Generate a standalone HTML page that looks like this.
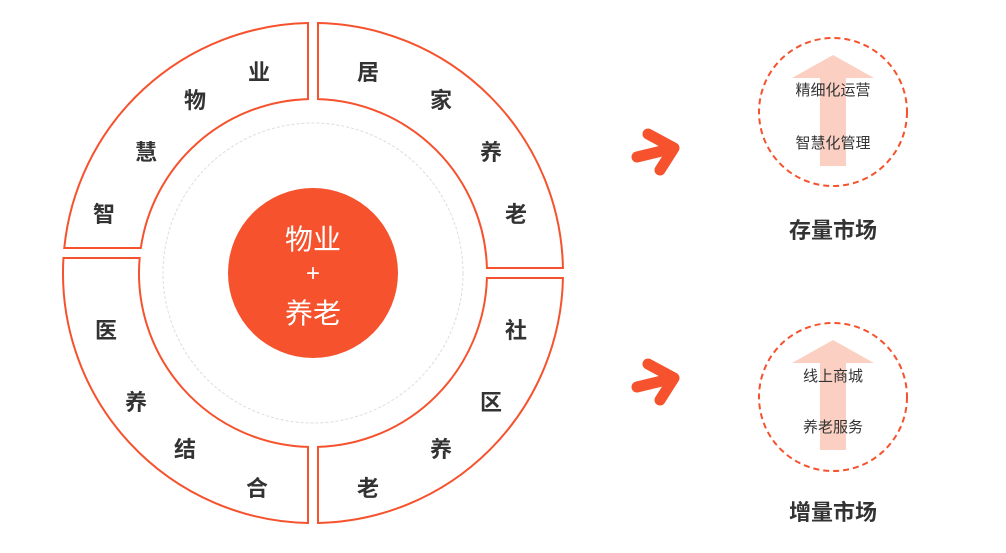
<!DOCTYPE html><html><head><meta charset="utf-8"><style>
body{margin:0;background:#fff;width:1006px;height:548px;overflow:hidden;font-family:"Liberation Sans","Noto Sans CJK SC",sans-serif}
</style></head><body>
<svg id="s" width="1006" height="548" xmlns="http://www.w3.org/2000/svg" style="font-family:'Liberation Sans','Noto Sans CJK SC',sans-serif">
<circle cx="313" cy="273" r="150" fill="none" stroke="#ddd" stroke-width="1" stroke-dasharray="3,2"/>
<circle cx="313" cy="273" r="85" fill="#f5522d"/>
<text x="313" y="249" fill="#fff" font-size="28" text-anchor="middle">物业</text>
<text x="313" y="281" fill="#fff" font-size="24" text-anchor="middle">+</text>
<text x="313" y="323" fill="#fff" font-size="28" text-anchor="middle">养老</text>
<g font-size="22" font-weight="bold" fill="#333" text-anchor="middle">
<text x="104" y="222">智</text><text x="146" y="160">慧</text><text x="195" y="108">物</text><text x="259" y="80">业</text>
<text x="368" y="80">居</text><text x="441" y="108">家</text><text x="491" y="160">养</text><text x="516" y="222">老</text>
<text x="516" y="338">社</text><text x="491" y="410">区</text><text x="441" y="457">养</text><text x="368" y="496">老</text>
<text x="106" y="338">医</text><text x="136" y="410">养</text><text x="185" y="457">结</text><text x="257" y="496">合</text>
</g>
<g fill="none" stroke="#f5522d" stroke-linecap="round" stroke-linejoin="round">
<path d="M637 157 L670 149" stroke-width="11"/>
<path d="M648 134 L674 148 L660 170" stroke-width="11"/>
<path d="M637 387 L670 379" stroke-width="11"/>
<path d="M648 364 L674 378 L660 400" stroke-width="11"/>
</g>
<path d="M820 166 L820 78 L792 78 L833 55 L874 78 L846 78 L846 166 Z" fill="#fbd0c3"/>
<path d="M820 450 L820 363 L792 363 L833 340 L874 363 L846 363 L846 450 Z" fill="#fbd0c3"/>
<circle cx="833" cy="112" r="74" fill="none" stroke="#f5522d" stroke-width="2" stroke-dasharray="6,4"/>
<circle cx="833" cy="397" r="74" fill="none" stroke="#f5522d" stroke-width="2" stroke-dasharray="6,4"/>
<g font-size="15" fill="#333" text-anchor="middle">
<text x="833" y="95">精细化运营</text><text x="833" y="148">智慧化管理</text>
<text x="833" y="381">线上商城</text><text x="833" y="432">养老服务</text>
</g>
<g font-size="22" font-weight="bold" fill="#333" text-anchor="middle">
<text x="833" y="238">存量市场</text><text x="833" y="520">增量市场</text>
</g>
</svg>
<script>
var cx=313,cy=273,R=250,r=174,s=document.getElementById('s');
function seg(x,y,sx,sy){
 var dx=x-cx,dy=y-cy;
 var yo=cy+sy*Math.sqrt(R*R-dx*dx), yi=cy+sy*Math.sqrt(r*r-dx*dx);
 var xo=cx+sx*Math.sqrt(R*R-dy*dy), xi=cx+sx*Math.sqrt(r*r-dy*dy);
 var sw=(sx*sy<0)?0:1;
 var d="M"+x+" "+yi+" L"+x+" "+yo+" A"+R+" "+R+" 0 0 "+(1-sw)+" "+xo+" "+y+" L"+xi+" "+y+" A"+r+" "+r+" 0 0 "+sw+" "+x+" "+yi+" Z";
 var p=document.createElementNS("http://www.w3.org/2000/svg","path");
 p.setAttribute("d",d);p.setAttribute("fill","none");p.setAttribute("stroke","#f5522d");p.setAttribute("stroke-width","2");
 s.insertBefore(p,s.firstChild);
}
seg(308,248,-1,-1);seg(318,268,1,-1);seg(318,278,1,1);seg(308,258,-1,1);
</script>
</body></html>
